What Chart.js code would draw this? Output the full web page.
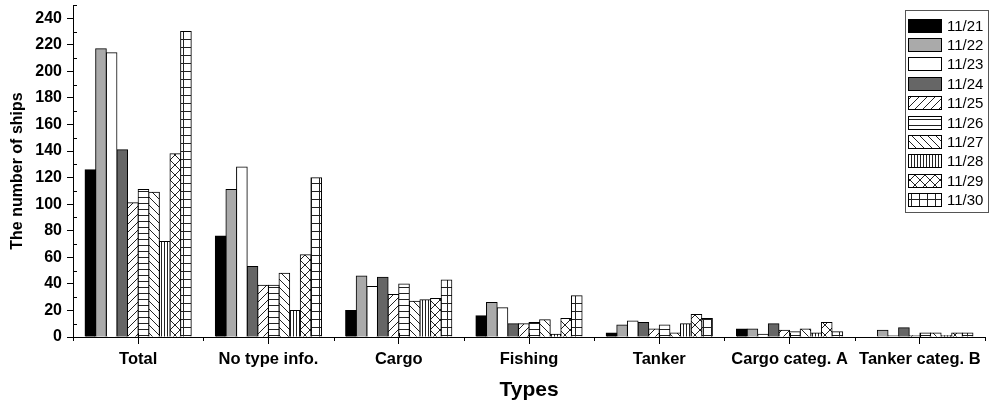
<!DOCTYPE html>
<html>
<head>
<meta charset="utf-8">
<script src="https://cdn.jsdelivr.net/npm/chart.js@4"></script>
<style>
  body { margin: 0; background: #fff; }
  #wrap { width: 990px; height: 403px; }
</style>
</head>
<body>
<div id="wrap"><canvas id="myChart" width="990" height="403"></canvas></div>
<script>
const categories = ["Total", "No type info.", "Cargo", "Fishing", "Tanker", "Cargo categ. A", "Tanker categ. B"];
const dayLabels = ["11/21", "11/22", "11/23", "11/24", "11/25", "11/26", "11/27", "11/28", "11/29", "11/30"];

const d1121 = [126, 76, 20, 16, 3, 6, 0];
const d1122 = [217, 111, 46, 26, 9, 6, 5];
const d1123 = [214, 128, 38, 22, 12, 2, 1];
const d1124 = [141, 53, 45, 10, 11, 10, 7];
const d1125 = [101, 39, 32, 10, 6, 5, 1];
const d1126 = [111, 39, 40, 11, 9, 4, 3];
const d1127 = [109, 48, 27, 13, 3, 6, 3];
const d1128 = [72, 20, 28, 2, 10, 3, 1];
const d1129 = [138, 62, 29, 14, 17, 11, 3];
const d1130 = [230, 120, 43, 31, 14, 4, 3];

const yTicks = [0, 20, 40, 60, 80, 100, 120, 140, 160, 180, 200, 220, 240];

const FONT = "'Liberation Sans', Arial, sans-serif";

// hatch fills like the original figure
function makePattern(kind) {
  const c = document.createElement("canvas");
  const s = kind === "vert" ? 3 : kind === "horiz" ? 6 : kind === "cross" ? 10 : 8;
  c.width = s;
  c.height = s;
  const g = c.getContext("2d");
  g.fillStyle = "#fff";
  g.fillRect(0, 0, s, s);
  g.strokeStyle = "#222";
  g.lineWidth = 1;
  g.beginPath();
  if (kind === "fwd" || kind === "cross") {
    g.moveTo(-1, s + 1); g.lineTo(s + 1, -1);
    g.moveTo(-1, 1); g.lineTo(1, -1);
    g.moveTo(s - 1, s + 1); g.lineTo(s + 1, s - 1);
  }
  if (kind === "back" || kind === "cross") {
    g.moveTo(-1, -1); g.lineTo(s + 1, s + 1);
    g.moveTo(s - 1, -1); g.lineTo(s + 1, 1);
    g.moveTo(-1, s - 1); g.lineTo(1, s + 1);
  }
  if (kind === "horiz" || kind === "grid") {
    g.moveTo(0, s - 0.5); g.lineTo(s, s - 0.5);
  }
  if (kind === "vert" || kind === "grid") {
    g.moveTo(s - 0.5, 0); g.lineTo(s - 0.5, s);
  }
  g.stroke();
  return g.createPattern(c, "repeat");
}

const fills = [
  "#000000",
  "#aaaaaa",
  "#ffffff",
  "#666666",
  makePattern("fwd"),
  makePattern("horiz"),
  makePattern("back"),
  makePattern("vert"),
  makePattern("cross"),
  makePattern("grid"),
];

const series = [d1121, d1122, d1123, d1124, d1125, d1126, d1127, d1128, d1129, d1130];

// minor ticks + boxed legend, drawn on top
const extras = {
  id: "extras",
  afterDraw(chart) {
    const c = chart.ctx;
    const area = chart.chartArea;
    const x = chart.scales.x;
    const y = chart.scales.y;
    c.save();
    c.strokeStyle = "#000";
    c.lineWidth = 1;
    c.beginPath();
    for (let v = 10; v <= 250; v += 20) {
      const py = Math.round(y.getPixelForValue(v)) + 0.5;
      c.moveTo(area.left, py);
      c.lineTo(area.left + 4, py);
    }
    const step = (area.right - area.left) / categories.length;
    for (let i = 0; i <= categories.length; i++) {
      const px = Math.round(area.left + i * step) + 0.5;
      c.moveTo(px, area.bottom);
      c.lineTo(px, area.bottom + 4);
    }
    categories.forEach((_, i) => {
      const px = Math.round(x.getPixelForValue(i)) + 0.5;
      c.moveTo(px, area.bottom - 4);
      c.lineTo(px, area.bottom);
    });
    c.stroke();

    // legend
    const lx = 905, ly = 10, lw = 83, lh = 202;
    c.fillStyle = "#fff";
    c.fillRect(lx, ly, lw, lh);
    c.strokeStyle = "#555";
    c.strokeRect(lx + 0.5, ly + 0.5, lw, lh);
    c.font = "15px " + FONT;
    c.textBaseline = "middle";
    chart.data.datasets.forEach((ds, i) => {
      const sy = Math.round(18.5 + i * 19.4);
      c.fillStyle = ds.backgroundColor;
      c.fillRect(908, sy, 33, 13);
      c.strokeStyle = "#000";
      c.strokeRect(908.5, sy + 0.5, 33, 13);
      c.fillStyle = "#000";
      c.fillText(ds.label, 947, sy + 7.5);
    });
    c.restore();
  },
};

new Chart(document.getElementById("myChart"), {
  type: "bar",
  data: {
    labels: categories,
    datasets: series.map((vals, i) => ({
      label: dayLabels[i],
      data: vals,
      backgroundColor: fills[i],
      borderColor: "#000",
      borderWidth: 1,
      inflateAmount: 0.5,
      categoryPercentage: 0.815,
      barPercentage: 1.0,
    })),
  },
  options: {
    responsive: false,
    animation: false,
    devicePixelRatio: 1,
    layout: { padding: { left: 0, right: 5, top: 5, bottom: 0 } },
    plugins: {
      legend: { display: false },
      tooltip: { enabled: false },
    },
    scales: {
      x: {
        offset: true,
        afterFit: (s) => { s.height = 66; s.paddingLeft = 0; s.paddingRight = 0; },
        grid: { drawOnChartArea: false, offset: false, tickLength: 7, color: "#000" },
        border: { display: true, color: "#000", width: 1 },
        ticks: {
          color: "#000",
          font: { family: FONT, size: 16.5, weight: "bold" },
          padding: 6,
          maxRotation: 0,
          autoSkip: false,
        },
        title: {
          display: true,
          text: "Types",
          color: "#000",
          font: { family: FONT, size: 21, weight: "bold" },
          padding: { top: 0, bottom: 0 },
        },
      },
      y: {
        min: 0,
        max: 250,
        afterFit: (s) => { s.width = 73; s.paddingTop = 0; s.paddingBottom = 0; },
        afterBuildTicks: (s) => {
          s.ticks = yTicks.map((v) => ({ value: v }));
        },
        grid: { drawOnChartArea: false, tickLength: 6, color: "#000" },
        border: { display: true, color: "#000", width: 1 },
        ticks: {
          color: "#000",
          font: { family: FONT, size: 16, weight: "bold" },
          padding: 5,
        },
        title: {
          display: true,
          text: "The number of ships",
          color: "#000",
          font: { family: FONT, size: 16, weight: "bold" },
          padding: { top: 8, bottom: 0 },
        },
      },
    },
  },
  plugins: [extras],
});
</script>
</body>
</html>
